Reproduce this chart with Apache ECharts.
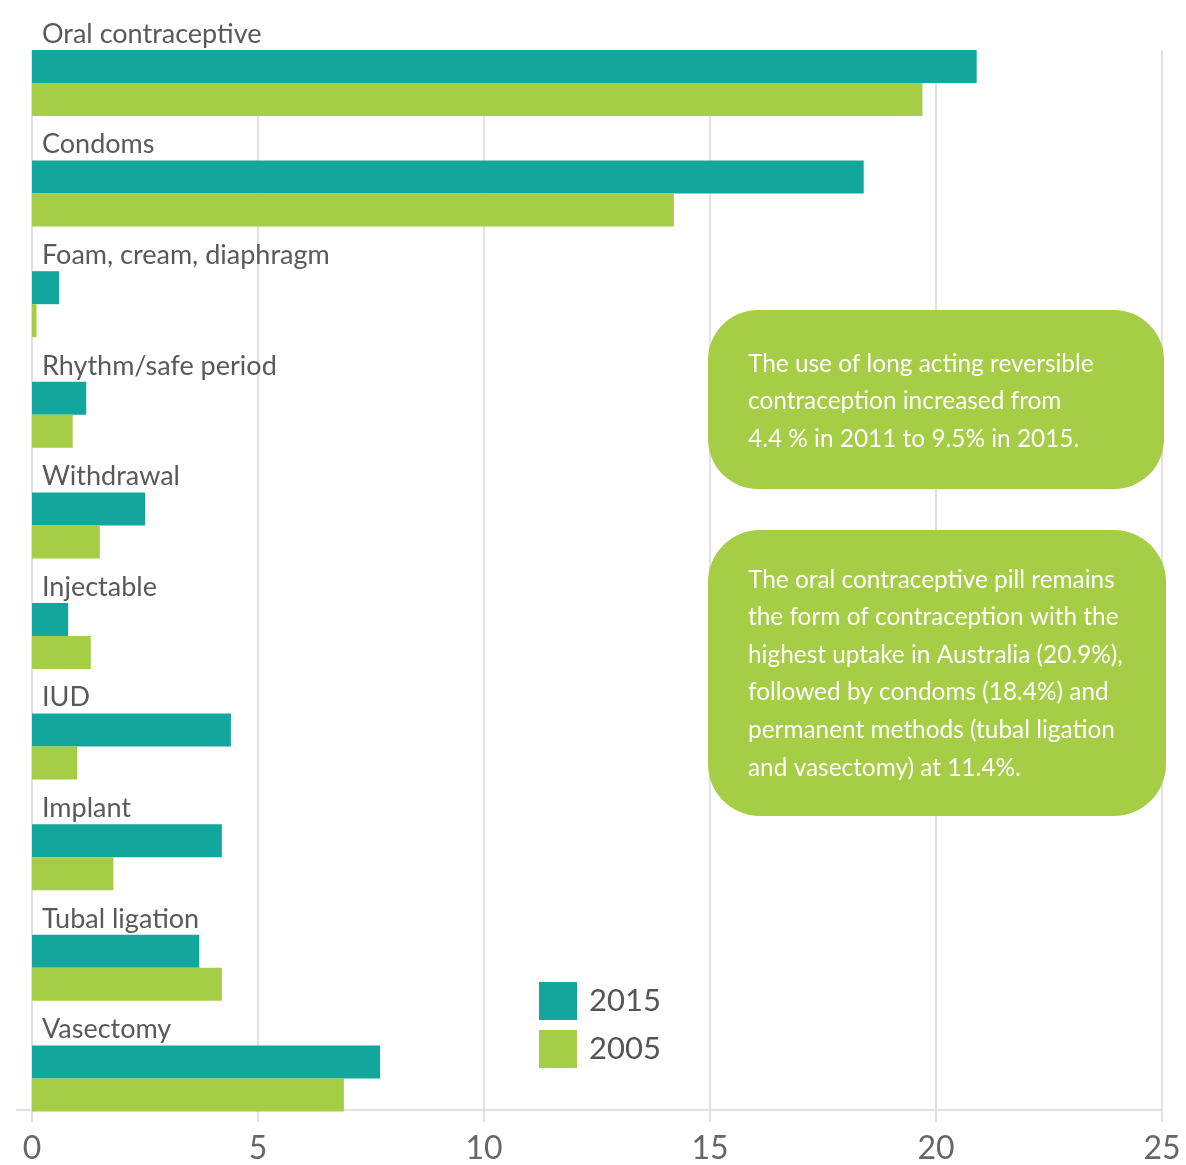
<!DOCTYPE html>
<html>
<head>
<meta charset="utf-8">
<script src="https://cdn.jsdelivr.net/npm/echarts@6/dist/echarts.min.js"></script>
<style>
  html, body { margin: 0; padding: 0; background: #ffffff; }
  #chart { width: 1186px; height: 1165px; }
</style>
</head>
<body>
<div id="chart"></div>
<script>
// Contraceptive methods used, share of women (%)
const methods = [
  'Oral contraceptive', 'Condoms', 'Foam, cream, diaphragm', 'Rhythm/safe period',
  'Withdrawal', 'Injectable', 'IUD', 'Implant', 'Tubal ligation', 'Vasectomy'
];
const values2015 = [20.9, 18.4, 0.6, 1.2, 2.5, 0.8, 4.4, 4.2, 3.7, 7.7];
const values2005 = [19.7, 14.2, 0.1, 0.9, 1.5, 1.3, 1.0, 1.8, 4.2, 6.9];
// empty slot above each pair of bars, where the method name sits
const labelRow = [0, 0, 0, 0, 0, 0, 0, 0, 0, 0];
const xTicks = { min: 0, max: 25, interval: 5 };
const seriesNames = ['2015', '2005'];

const note1 = 'The use of long acting reversible\ncontraception increased from\n4.4 % in 2011 to 9.5% in 2015.';
const note2 = 'The oral contraceptive pill remains\nthe form of contraception with the\nhighest uptake in Australia (20.9%),\nfollowed by condoms (18.4%) and\npermanent methods (tubal ligation\nand vasectomy) at 11.4%.';

const FONT = 'Lato, "Open Sans", sans-serif';
const TEAL = '#12a69c';
const GREEN = '#a5cd46';
const GRID_GREY = '#d9d9d9';

const chart = echarts.init(document.getElementById('chart'), null, { renderer: 'canvas' });

const option = {
  animation: false,
  textStyle: { fontFamily: FONT },
  grid: [
    // bars
    { left: 32, right: 24, top: 5.4, bottom: 53.6 },
    // visible value axis and gridlines
    { left: 32, right: 24, top: 50, bottom: 55 }
  ],
  xAxis: [
    { gridIndex: 0, type: 'value', min: xTicks.min, max: xTicks.max, interval: xTicks.interval, show: false },
    {
      gridIndex: 1, type: 'value', min: xTicks.min, max: xTicks.max, interval: xTicks.interval,
      axisLine: { show: true, lineStyle: { color: GRID_GREY, width: 1.5 } },
      axisTick: { show: true, length: 12, lineStyle: { color: GRID_GREY, width: 1.5 } },
      splitLine: { show: true, lineStyle: { color: GRID_GREY, width: 1.5 } },
      axisLabel: { fontSize: 32, color: '#666666', margin: 23, fontFamily: FONT }
    }
  ],
  yAxis: [
    { gridIndex: 0, type: 'category', data: methods, inverse: true, show: false },
    {
      gridIndex: 1, type: 'value', min: 0, max: 1,
      axisLine: { show: false },
      axisLabel: { show: false },
      splitLine: { show: false },
      axisTick: { show: true, length: 16, customValues: [0], lineStyle: { color: GRID_GREY, width: 1.5 } }
    }
  ],
  legend: {
    orient: 'vertical',
    left: 539,
    top: 982,
    padding: 0,
    itemWidth: 38,
    itemHeight: 38,
    itemGap: 10,
    icon: 'rect',
    data: seriesNames,
    textStyle: { fontSize: 31, color: '#555555', fontFamily: FONT, padding: [0, 0, 0, 7] }
  },
  series: [
    {
      name: 'labels',
      type: 'bar',
      xAxisIndex: 0, yAxisIndex: 0,
      data: labelRow,
      barWidth: 44.6,
      barGap: 0,
      silent: true,
      itemStyle: { color: 'rgba(0,0,0,0)' }
    },
    {
      name: seriesNames[0],
      type: 'bar',
      xAxisIndex: 0, yAxisIndex: 0,
      data: values2015,
      barWidth: 33,
      barGap: 0,
      itemStyle: { color: TEAL },
      label: {
        show: true,
        position: [10, -16],
        align: 'left',
        verticalAlign: 'middle',
        formatter: '{b}',
        fontSize: 27,
        color: '#595959',
        fontFamily: FONT
      }
    },
    {
      name: seriesNames[1],
      type: 'bar',
      xAxisIndex: 0, yAxisIndex: 0,
      data: values2005,
      barWidth: 33,
      barGap: 0,
      itemStyle: { color: GREEN }
    }
  ],
  graphic: [
    {
      type: 'rect', left: 708, top: 310, z: 10,
      shape: { width: 456, height: 179, r: 50 },
      style: { fill: GREEN }
    },
    {
      type: 'text', left: 748, top: 345, z: 11,
      style: { text: note1, fill: '#ffffff', font: '24.4px ' + FONT, lineHeight: 37.5 }
    },
    {
      type: 'rect', left: 708, top: 530, z: 10,
      shape: { width: 458, height: 286, r: 52 },
      style: { fill: GREEN }
    },
    {
      type: 'text', left: 748, top: 561, z: 11,
      style: { text: note2, fill: '#ffffff', font: '24.4px ' + FONT, lineHeight: 37.6 }
    }
  ]
};

chart.setOption(option);
</script>
</body>
</html>
